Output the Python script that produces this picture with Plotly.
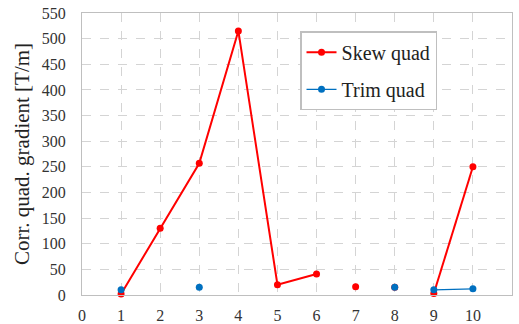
import plotly.graph_objects as go

# Skew quad data (None breaks the line between unconnected points)
skew_x = [1, 2, 3, 4, 5, 6, 6.5, 7, 7.5, 8, 8.5, 9, 10]
skew_y = [2, 130, 257, 515, 20, 41, None, 16, None, 15, None, 3, 250]

# Trim quad data
trim_x = [1, 2, 3, 5.5, 8, 8.5, 9, 10]
trim_y = [10, None, 15, None, 15, None, 10, 12]

x_ticks = list(range(0, 12))
y_ticks = list(range(0, 551, 50))

serif = "Liberation Serif"

fig = go.Figure()
fig.add_trace(go.Scatter(
    x=skew_x, y=skew_y, mode="lines+markers", name="Skew quad",
    line=dict(color="#ff0000", width=2), marker=dict(color="#ff0000", size=7),
    connectgaps=False, legendgroup="a", cliponaxis=False))
fig.add_trace(go.Scatter(
    x=trim_x, y=trim_y, mode="lines+markers", name="Trim quad",
    line=dict(color="#0070c0", width=1.2), marker=dict(color="#0070c0", size=7),
    connectgaps=False, legendgroup="b", cliponaxis=False))

grid = dict(showgrid=True, gridcolor="#d4d4d4", griddash="dash", gridwidth=1,
            showline=True, linecolor="#bfbfbf", linewidth=1, mirror=True,
            zeroline=False, ticks="", automargin=False,
            tickfont=dict(family=serif, size=16, color="#333"))

fig.update_xaxes(range=[0, 11], tickvals=x_ticks, ticklabelstandoff=6, **grid)
fig.update_yaxes(range=[0, 550], tickvals=y_ticks, ticklabelstandoff=12,
                 title=dict(text="Corr. quad. gradient [T/m]",
                            font=dict(family=serif, size=21, color="#222"), standoff=6),
                 **grid)

fig.update_layout(
    width=519, height=324,
    margin=dict(l=82, r=7, t=13, b=29),
    paper_bgcolor="white", plot_bgcolor="white",
    font=dict(family=serif),
    legend=dict(x=0.507, y=0.935, xanchor="left", yanchor="top",
                bgcolor="white", bordercolor="#bfbfbf", borderwidth=1.5,
                font=dict(family=serif, size=20, color="#222"),
                traceorder="grouped", tracegroupgap=8, itemwidth=30),
    showlegend=True,
)

fig.write_html("out.html", config={"displayModeBar": False},
               post_script="document.body.style.margin='0';")
